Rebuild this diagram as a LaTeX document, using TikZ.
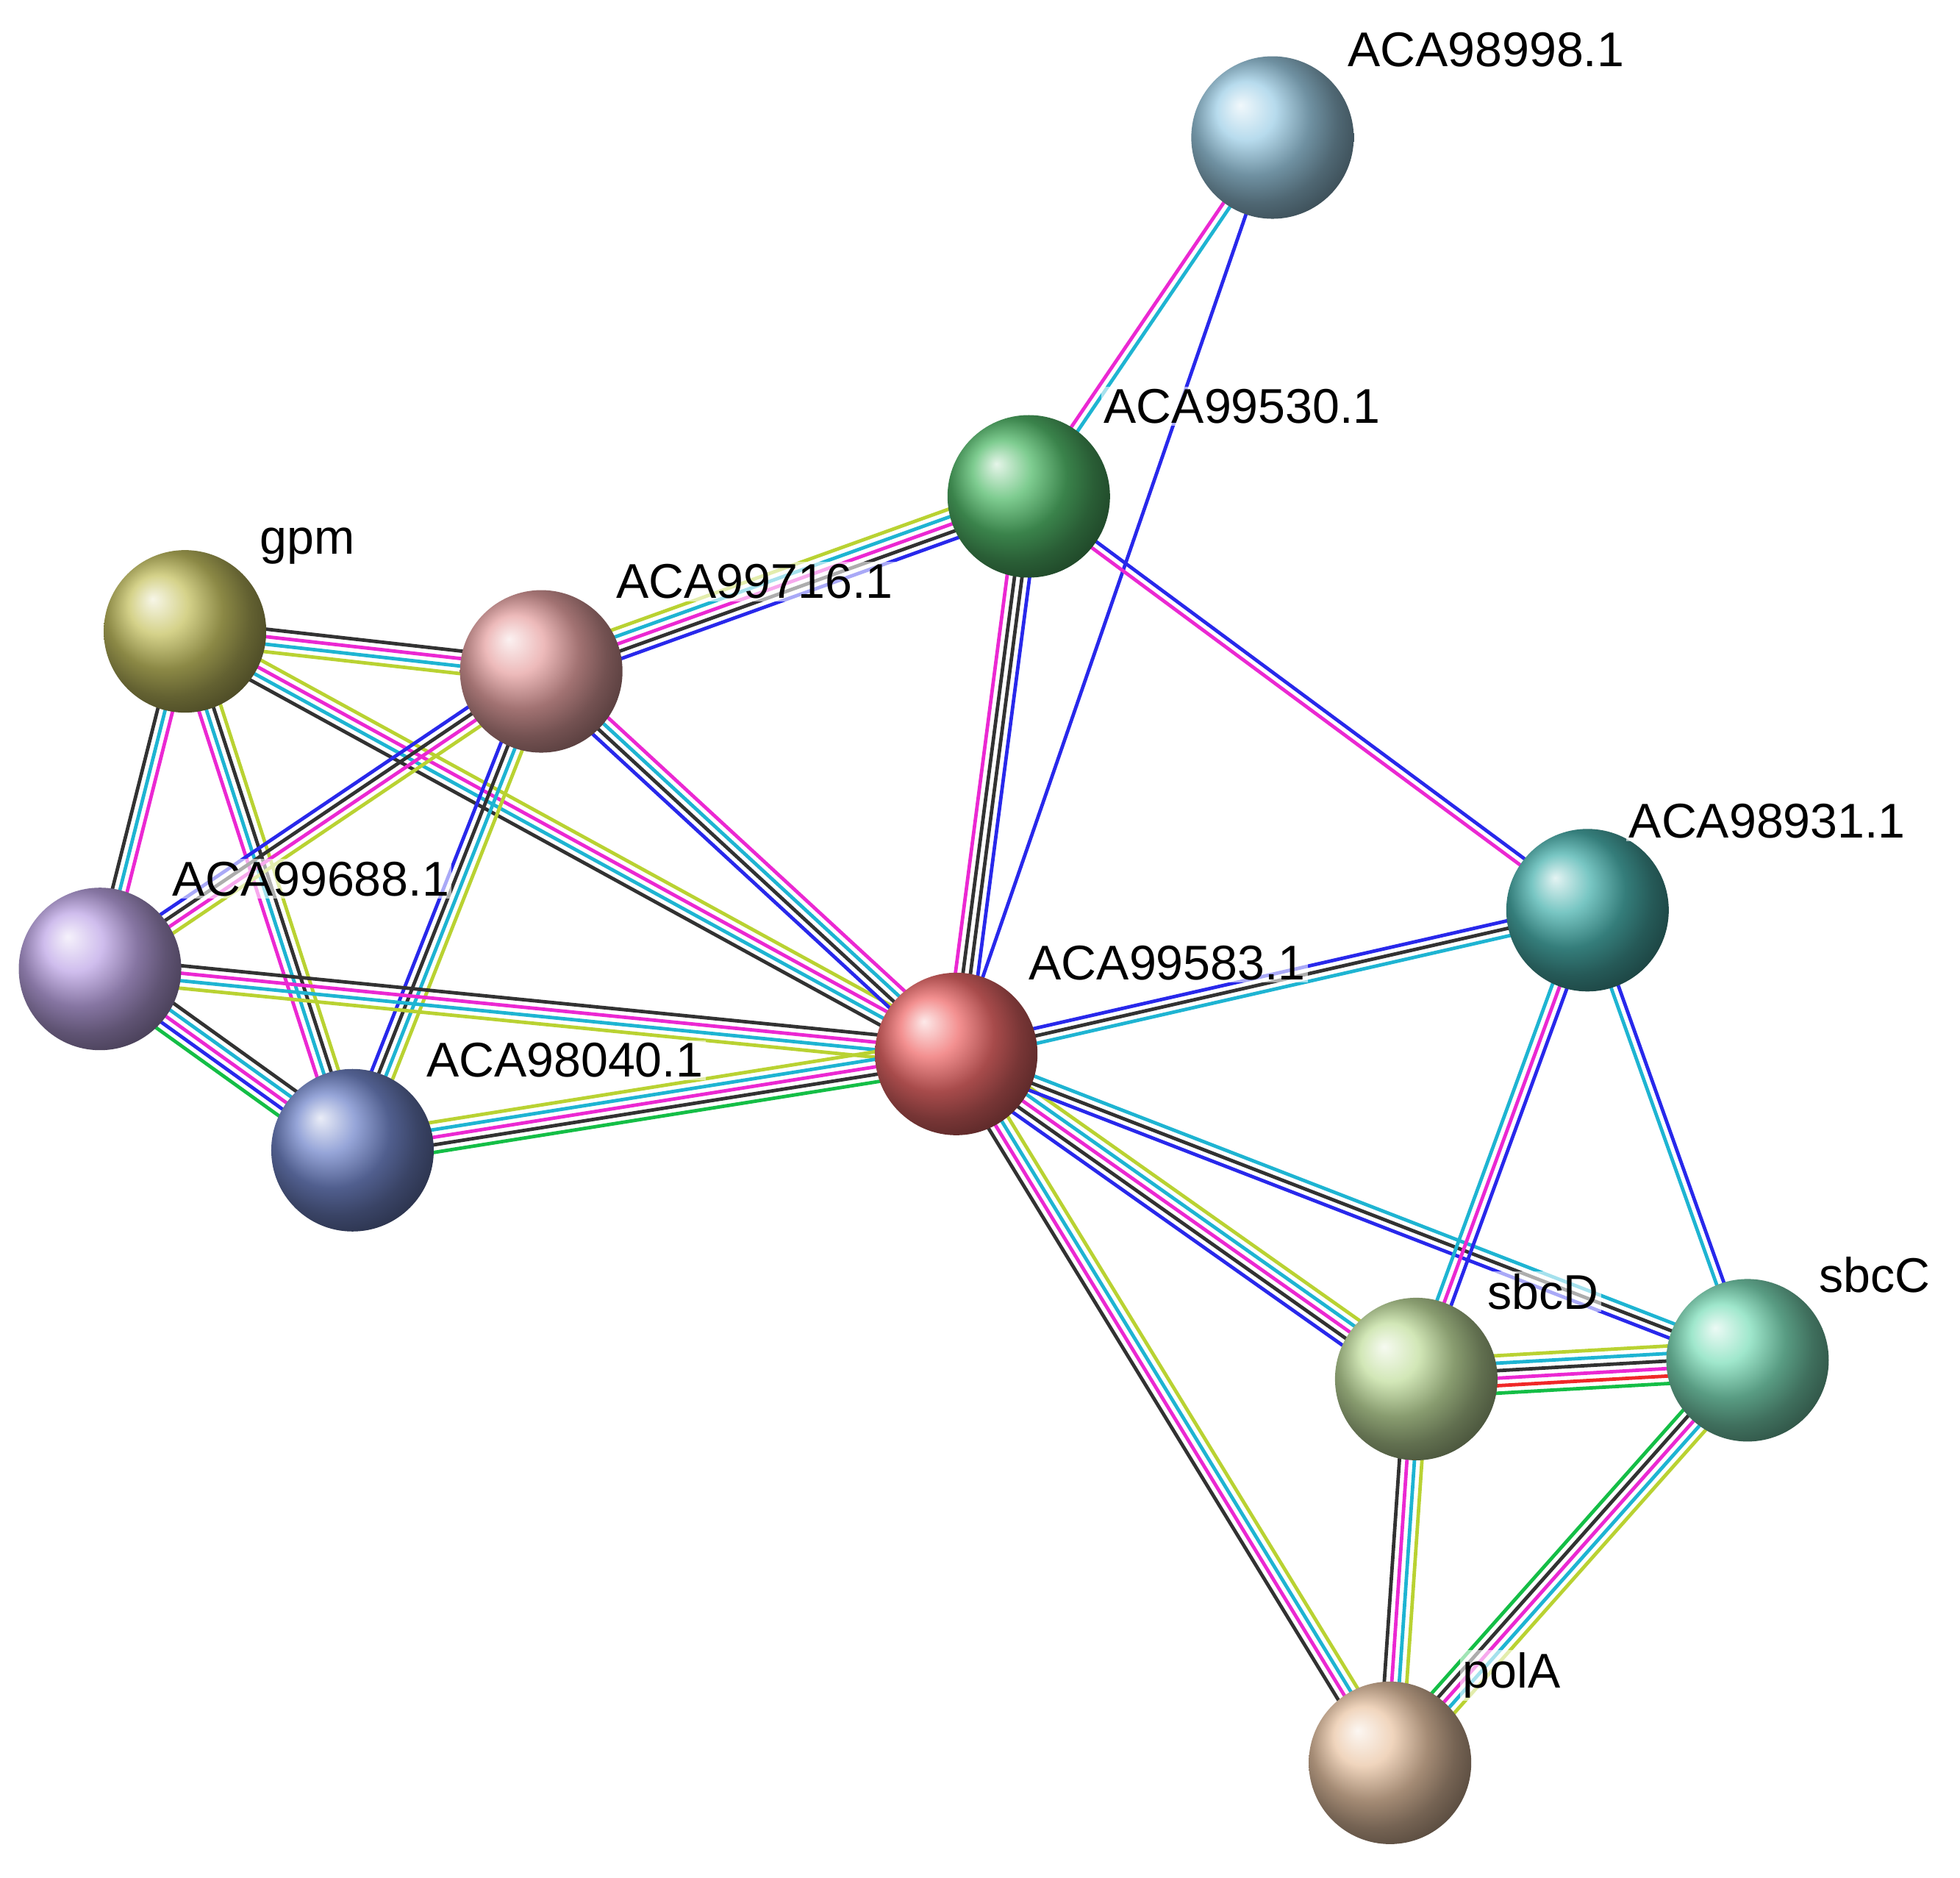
\documentclass[tikz,border=0pt]{standalone}
\usepackage{fontspec}
\setmainfont{Liberation Sans}
\usetikzlibrary{calc,positioning}
\definecolor{eblue}{RGB}{40,40,235}
\definecolor{emag}{RGB}{235,40,210}
\definecolor{ecyan}{RGB}{30,180,210}
\definecolor{eblack}{RGB}{50,50,50}
\definecolor{eyel}{RGB}{185,210,50}
\definecolor{egreen}{RGB}{20,190,70}
\definecolor{ered}{RGB}{240,40,40}
\definecolor{c998}{RGB}{135,195,225}
\definecolor{c530}{RGB}{40,170,70}
\definecolor{cgpm}{RGB}{185,180,60}
\definecolor{c716}{RGB}{225,140,140}
\definecolor{c931}{RGB}{30,160,155}
\definecolor{c688}{RGB}{175,145,225}
\definecolor{c583}{RGB}{235,70,70}
\definecolor{c040}{RGB}{80,105,190}
\definecolor{csbcD}{RGB}{180,215,135}
\definecolor{csbcC}{RGB}{95,215,170}
\definecolor{cpolA}{RGB}{230,185,145}
% parallel coloured lines between two proteins
\newcommand{\link}[4]{%
  \foreach \c [count=\i] in {#4} {
    \pgfmathsetmacro{\o}{(\i-(#3+1)/2)*6}
    \draw[\c,line width=2.8pt] ($(#1)!\o pt!90:(#2)$) -- ($(#2)!\o pt!-90:(#1)$);
  }}
\begin{document}
\begin{tikzpicture}
  [x=1pt,y=-1pt,
   prot/.style={circle,minimum size=130pt,inner sep=0pt,ball color=#1!80!white},
   lab/.style={anchor=west,font=\fontsize{39}{42}\selectfont,fill=white,fill opacity=0.6,text opacity=1,inner sep=2pt}]
  \useasboundingbox (0,0) rectangle (1568,1502);
  \coordinate (p998) at (1018,110);
  \coordinate (p530) at (823,397);
  \coordinate (gpm) at (148,505);
  \coordinate (p716) at (433,537);
  \coordinate (p931) at (1270,728);
  \coordinate (p688) at (80,775);
  \coordinate (p583) at (765,843);
  \coordinate (p040) at (282,920);
  \coordinate (sbcD) at (1133,1103);
  \coordinate (sbcC) at (1398,1088);
  \coordinate (polA) at (1112,1410);

  \link{p998}{p530}{2}{emag,ecyan}
  \link{p998}{p583}{1}{eblue}
  \link{p530}{p716}{5}{eyel,ecyan,emag,eblack,eblue}
  \link{p530}{p583}{4}{emag,eblack,eblack,eblue}
  \link{p530}{p931}{2}{emag,eblue}
  \link{gpm}{p716}{4}{eyel,ecyan,emag,eblack}
  \link{gpm}{p583}{4}{eblack,ecyan,emag,eyel}
  \link{gpm}{p688}{3}{eblack,ecyan,emag}
  \link{gpm}{p040}{4}{emag,ecyan,eblack,eyel}
  \link{p716}{p688}{4}{eblue,eblack,emag,eyel}
  \link{p716}{p040}{4}{eblue,eblack,ecyan,eyel}
  \link{p716}{p583}{4}{eblue,eblack,ecyan,emag}
  \link{p688}{p583}{4}{eyel,ecyan,emag,eblack}
  \link{p688}{p040}{5}{egreen,eblue,emag,ecyan,eblack}
  \link{p040}{p583}{5}{egreen,eblack,emag,ecyan,eyel}
  \link{p583}{p931}{3}{ecyan,eblack,eblue}
  \link{p583}{sbcD}{5}{eblue,eblack,emag,ecyan,eyel}
  \link{p583}{sbcC}{3}{eblue,eblack,ecyan}
  \link{p583}{polA}{4}{eblack,emag,ecyan,eyel}
  \link{p931}{sbcD}{3}{ecyan,emag,eblue}
  \link{p931}{sbcC}{2}{ecyan,eblue}
  \link{sbcD}{sbcC}{6}{egreen,ered,emag,eblack,ecyan,eyel}
  \link{sbcD}{polA}{4}{eblack,emag,ecyan,eyel}
  \link{sbcC}{polA}{5}{egreen,eblack,emag,ecyan,eyel}

  \node[prot=c998] (n998) at (p998) {};
  \node[prot=c530] (n530) at (p530) {};
  \node[prot=cgpm] (ngpm) at (gpm) {};
  \node[prot=c716] (n716) at (p716) {};
  \node[prot=c931] (n931) at (p931) {};
  \node[prot=c688] (n688) at (p688) {};
  \node[prot=c583] (n583) at (p583) {};
  \node[prot=c040] (n040) at (p040) {};
  \node[prot=csbcD] (nsbcD) at (sbcD) {};
  \node[prot=csbcC] (nsbcC) at (sbcC) {};
  \node[prot=cpolA] (npolA) at (polA) {};

  \node[lab] (l998) at (1076,40) {ACA98998.1};
  \node[lab] (l530) at (881,325) {ACA99530.1};
  \node[lab] (lgpm) at (206,437) {gpm};
  \node[lab] (l716) at (491,465) {ACA99716.1};
  \node[lab] (l931) at (1301,657) {ACA98931.1};
  \node[lab] (l688) at (136,703) {ACA99688.1};
  \node[lab] (l583) at (821,770) {ACA99583.1};
  \node[lab] (l040) at (339,848) {ACA98040.1};
  \node[lab] (lsbcD) at (1188,1033) {sbcD};
  \node[lab] (lsbcC) at (1453,1020) {sbcC};
  \node[lab] (lpolA) at (1168,1340) {polA};
\end{tikzpicture}
\end{document}
